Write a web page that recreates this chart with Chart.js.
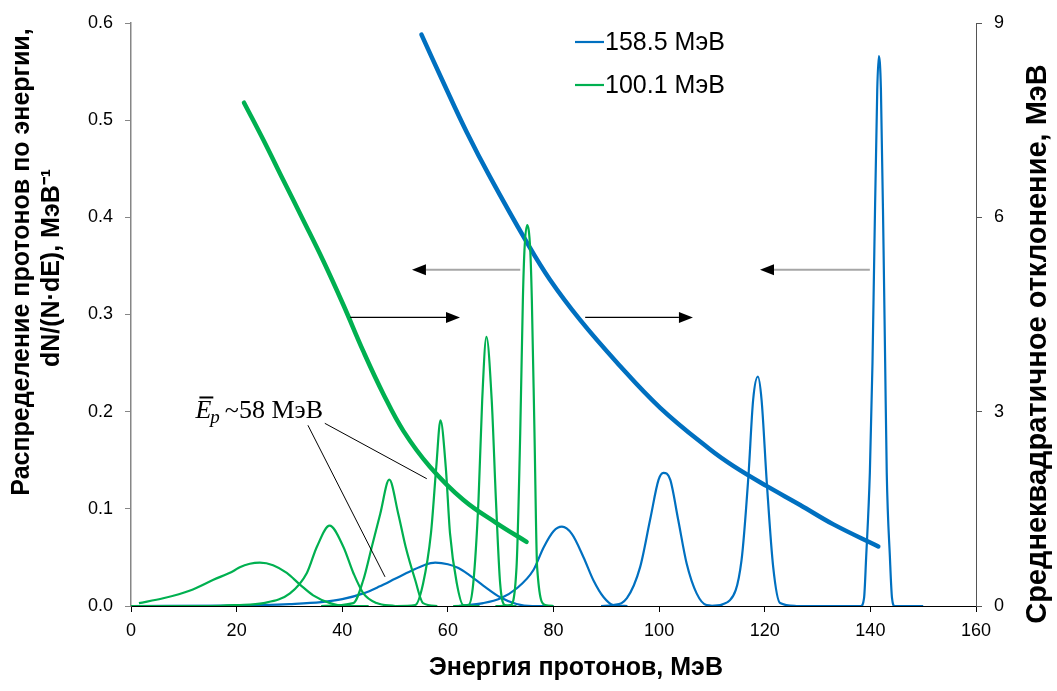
<!DOCTYPE html>
<html><head><meta charset="utf-8">
<script src="https://cdn.jsdelivr.net/npm/chart.js@4/dist/chart.umd.min.js"></script>
<style>html,body{margin:0;padding:0;background:#fff;overflow:hidden}</style>
</head><body>
<canvas id="c" width="1057" height="691"></canvas>
<script>
// ---- Data ----
// Energy distribution peaks (left axis, dN/(N·dE), МэВ^-1)
const blueP1E = [0, 20, 25, 30, 36, 40, 44, 47, 50, 53, 55.5, 57.6, 60, 62, 64, 66.7, 69.9, 73, 76, 80];
const blueP1V = [0, 0.0005, 0.001, 0.002, 0.004, 0.007, 0.013, 0.020, 0.028, 0.036, 0.042, 0.0446, 0.043, 0.039, 0.032, 0.021, 0.009, 0.002, 0, 0];
const blueP2E = [62, 66.7, 70, 73, 76.2, 78.1, 80.0, 81.6, 83.5, 85.7, 87.6, 89.5, 91.3, 94];
const blueP2V = [0, 0.003, 0.008, 0.018, 0.037, 0.060, 0.077, 0.0816, 0.074, 0.050, 0.026, 0.009, 0.001, 0];
const blueP3E = [89, 91.3, 93.9, 96.4, 98.3, 99.9, 100.8, 102.1, 103.6, 105.2, 107.1, 109, 112];
const blueP3V = [0, 0.001, 0.008, 0.040, 0.089, 0.130, 0.137, 0.130, 0.089, 0.044, 0.013, 0.001, 0];
const blueP4E = [110, 113.4, 115.6, 116.9, 117.8, 118.7, 119.4, 120.4, 121.6, 122.9, 126];
const blueP4V = [0, 0.006, 0.047, 0.133, 0.212, 0.236, 0.212, 0.126, 0.040, 0.003, 0];
const blueP5E = [125, 138.2, 138.8, 139.2, 139.9, 140.4, 140.75, 141.3, 141.6, 142.0, 142.5, 142.8, 143.1, 143.7, 144.1, 144.6, 150];
const blueP5V = [0, 0, 0.008, 0.05, 0.137, 0.25, 0.366, 0.531, 0.566, 0.531, 0.366, 0.25, 0.137, 0.05, 0.008, 0, 0];

const greenP1E = [1.5, 6.1, 11.2, 15.6, 19.4, 20.6, 22.5, 24.4, 26.9, 29.5, 32, 34.5, 37.7, 40.8, 45];
const greenP1V = [0.003, 0.008, 0.016, 0.027, 0.036, 0.040, 0.0435, 0.0446, 0.042, 0.034, 0.022, 0.011, 0.003, 0, 0];
const greenP2E = [0, 15, 20, 25.1, 30.1, 33.3, 35.2, 37.6, 40.2, 42.1, 44, 46.5, 50];
const greenP2V = [0, 0, 0.001, 0.003, 0.013, 0.034, 0.061, 0.0827, 0.061, 0.034, 0.013, 0.003, 0];
const greenP3E = [36, 42.1, 44, 45.6, 47.2, 48.9, 50.6, 52.0, 53.8, 55.3, 58];
const greenP3V = [0, 0.003, 0.027, 0.061, 0.095, 0.130, 0.095, 0.061, 0.027, 0.003, 0];
const greenP4E = [50, 53.8, 55.3, 56.8, 57.8, 58.6, 59.6, 60.4, 61.7, 62.9, 66];
const greenP4V = [0, 0.001, 0.023, 0.075, 0.143, 0.191, 0.143, 0.075, 0.023, 0.001, 0];
const greenP5E = [61, 63.9, 64.8, 65.8, 66.5, 67.3, 68.3, 69.1, 69.9, 70.8, 73];
const greenP5V = [0, 0.001, 0.023, 0.109, 0.212, 0.277, 0.212, 0.109, 0.023, 0.001, 0];
const greenP6E = [69, 71.8, 73.0, 73.7, 74.2, 74.5, 75.0, 75.6, 75.9, 76.4, 76.9, 78.4, 80];
const greenP6V = [0, 0.001, 0.040, 0.178, 0.315, 0.366, 0.392, 0.366, 0.315, 0.178, 0.040, 0.001, 0];

// RMS deviation (right axis, МэВ)
const blueRmsE = [55.0, 59.1, 63.6, 68.0, 74.9, 79.3, 85.0, 92.0, 100.2, 109.6, 114.1, 120.4, 126.7, 133.0, 141.5];
const blueRmsV = [8.82, 8.09, 7.31, 6.62, 5.62, 5.04, 4.42, 3.76, 3.06, 2.42, 2.16, 1.85, 1.56, 1.26, 0.92];
const greenRmsE = [21.4, 25.1, 28.8, 32.6, 36.4, 40.2, 44.0, 47.8, 51.6, 56.6, 62.9, 69.2, 74.9];
const greenRmsV = [7.77, 7.19, 6.58, 5.96, 5.33, 4.65, 3.93, 3.27, 2.70, 2.15, 1.64, 1.28, 0.99];

const seriesLabels = ['158.5 МэВ', '100.1 МэВ'];
const xTicks = [0, 20, 40, 60, 80, 100, 120, 140, 160];
const leftTicks = [0, 0.1, 0.2, 0.3, 0.4, 0.5, 0.6];
const rightTicks = [0, 3, 6, 9];

const xTitle = 'Энергия протонов, МэВ';
const leftTitle = ['Распределение протонов по энергии,', 'dN/(N·dE), МэВ⁻¹'];
const rightTitle = 'Среднеквадратичное отклонение, МэВ';

const BLUE = '#0070C0', GREEN = '#00B050';
const pts = (xs, ys) => xs.map((x, i) => ({x, y: ys[i]}));

function peak(xs, ys, color, legend) {
  return {data: pts(xs, ys), borderColor: color, backgroundColor: color, borderWidth: 2.2,
    pointRadius: 0, cubicInterpolationMode: 'monotone', yAxisID: 'y', fill: false, legendLabel: legend};
}
function thick(xs, ys, color) {
  return {data: pts(xs, ys), borderColor: color, backgroundColor: color, borderWidth: 4.5,
    borderCapStyle: 'round', pointRadius: 0, tension: 0.4, yAxisID: 'y2', fill: false};
}

const datasets = [
  thick(greenRmsE, greenRmsV, GREEN),
  peak(greenP1E, greenP1V, GREEN, seriesLabels[1]),
  peak(greenP2E, greenP2V, GREEN),
  peak(greenP3E, greenP3V, GREEN),
  peak(greenP4E, greenP4V, GREEN),
  peak(greenP5E, greenP5V, GREEN),
  peak(greenP6E, greenP6V, GREEN),
  thick(blueRmsE, blueRmsV, BLUE),
  peak(blueP1E, blueP1V, BLUE, seriesLabels[0]),
  peak(blueP2E, blueP2V, BLUE),
  peak(blueP3E, blueP3V, BLUE),
  peak(blueP4E, blueP4V, BLUE),
  peak(blueP5E, blueP5V, BLUE),
];

const FONT = "'Liberation Sans', Arial, sans-serif";

const decor = {
  id: 'decor',
  afterDatasetsDraw(chart) {
    const ctx = chart.ctx, sx = chart.scales.x, sy = chart.scales.y;
    const px = v => sx.getPixelForValue(v), py = v => sy.getPixelForValue(v);
    ctx.save();
    function arrow(x1, x2, y, color, w) {
      const X1 = px(x1), X2 = px(x2), Y = py(y);
      const dir = Math.sign(X2 - X1), L = 14, H = 5.5;
      ctx.strokeStyle = color; ctx.lineWidth = w;
      ctx.beginPath(); ctx.moveTo(X1, Y); ctx.lineTo(X2 - dir * L, Y); ctx.stroke();
      ctx.fillStyle = '#000';
      ctx.beginPath(); ctx.moveTo(X2, Y); ctx.lineTo(X2 - dir * L, Y - H); ctx.lineTo(X2 - dir * L, Y + H); ctx.closePath(); ctx.fill();
    }
    arrow(73.7, 53.2, 0.346, '#a6a6a6', 2);
    arrow(139.9, 119.1, 0.346, '#a6a6a6', 2);
    arrow(41.5, 62.3, 0.297, '#000', 1.2);
    arrow(86.0, 106.4, 0.297, '#000', 1.2);
    ctx.strokeStyle = '#000'; ctx.lineWidth = 1;
    ctx.beginPath(); ctx.moveTo(px(33.5), py(0.186)); ctx.lineTo(px(48.1), py(0.030)); ctx.stroke();
    ctx.beginPath(); ctx.moveTo(px(36.7), py(0.188)); ctx.lineTo(px(56.0), py(0.131)); ctx.stroke();
    const bx = px(12.2), by = py(0.193);
    ctx.fillStyle = '#000'; ctx.textBaseline = 'alphabetic'; ctx.textAlign = 'left';
    ctx.font = "italic 26px 'Liberation Serif', serif";
    ctx.fillText('E', bx, by);
    const eW = ctx.measureText('E').width;
    ctx.lineWidth = 2; ctx.beginPath(); ctx.moveTo(bx + 4, by - 21); ctx.lineTo(bx + eW + 2, by - 21); ctx.stroke();
    ctx.font = "italic 19px 'Liberation Serif', serif";
    ctx.fillText('p', bx + eW - 1, by + 5);
    const pW = ctx.measureText('p').width;
    ctx.font = "26px 'Liberation Serif', serif";
    ctx.fillText('~58 МэВ', bx + eW + pW + 4, by);
    ctx.restore();
  },
  afterDraw(chart) {
    const ctx = chart.ctx;
    ctx.save();
    ctx.fillStyle = '#000';
    const items = chart.data.datasets.filter(d => d.legendLabel)
      .sort((a, b) => seriesLabels.indexOf(a.legendLabel) - seriesLabels.indexOf(b.legendLabel));
    ctx.font = '25px ' + FONT; ctx.textBaseline = 'middle'; ctx.textAlign = 'left';
    items.forEach((d, i) => {
      const y = 42 + i * 43;
      ctx.strokeStyle = d.borderColor; ctx.lineWidth = 2.2;
      ctx.beginPath(); ctx.moveTo(575, y); ctx.lineTo(604, y); ctx.stroke();
      ctx.fillText(d.legendLabel, 605, y + 1);
    });
    ctx.font = 'bold 25px ' + FONT; ctx.textAlign = 'center'; ctx.textBaseline = 'middle';
    ctx.fillText(xTitle, 576, 668);
    ctx.save();
    ctx.rotate(-Math.PI / 2);
    ctx.fillText(leftTitle[0], -262, 22);
    ctx.fillText(leftTitle[1], -268, 52);
    ctx.restore();
    ctx.save();
    ctx.rotate(-Math.PI / 2);
    ctx.font = 'bold 29px ' + FONT;
    ctx.fillText(rightTitle, -344, 1038);
    ctx.restore();
    ctx.restore();
  }
};

new Chart(document.getElementById('c'), {
  type: 'line',
  data: {datasets},
  options: {
    responsive: false, animation: false, devicePixelRatio: 1,
    layout: {padding: {top: 23, left: 0, right: 0, bottom: 0}},
    plugins: {legend: {display: false}, tooltip: {enabled: false}},
    scales: {
      x: {type: 'linear', min: 0, max: 160,
        afterBuildTicks: s => { s.ticks = xTicks.map(v => ({value: v})); },
        ticks: {font: {family: FONT, size: 18}, color: '#000', padding: 8, maxRotation: 0},
        grid: {drawOnChartArea: false, drawTicks: true, tickLength: 6, tickColor: '#000'},
        border: {color: '#000', width: 1},
        afterFit: s => { s.height = 85; }},
      y: {position: 'left', min: 0, max: 0.6,
        afterBuildTicks: s => { s.ticks = leftTicks.map(v => ({value: v})); },
        ticks: {font: {family: FONT, size: 18}, color: '#000', padding: 12, callback: v => v.toFixed(1)},
        grid: {drawOnChartArea: false, drawTicks: true, tickLength: 6, tickColor: '#868686'},
        border: {color: '#868686', width: 1.5},
        afterFit: s => { s.width = 131; }},
      y2: {position: 'right', min: 0, max: 9,
        afterBuildTicks: s => { s.ticks = rightTicks.map(v => ({value: v})); },
        ticks: {font: {family: FONT, size: 18}, color: '#000', padding: 12},
        grid: {drawOnChartArea: false, drawTicks: true, tickLength: 6, tickColor: '#555'},
        border: {color: '#555', width: 1},
        afterFit: s => { s.width = 81; }}
    }
  },
  plugins: [decor]
});
</script>
</body></html>
